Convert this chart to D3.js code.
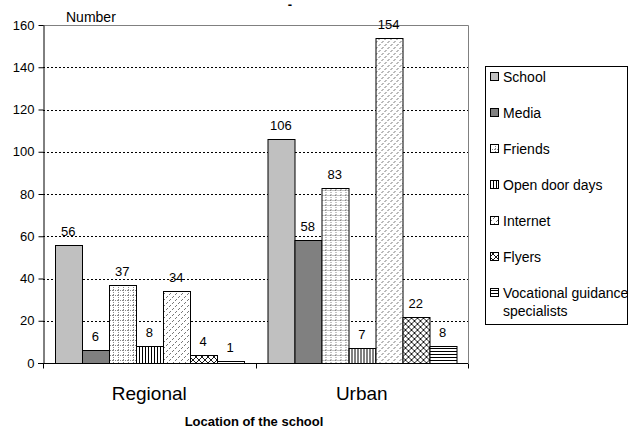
<!DOCTYPE html>
<html>
<head>
<meta charset="utf-8">
<script src="https://cdn.jsdelivr.net/npm/d3@7"></script>
<style>
  body { margin: 0; background: #fff; }
  text { font-family: "Liberation Sans", Arial, sans-serif; }
</style>
</head>
<body>
<div id="chart"></div>
<script>
// data
var categories = ["Regional", "Urban"];
var series = ["School", "Media", "Friends", "Open door days", "Internet", "Flyers", "Vocational guidance specialists"];
var regionalValues = [56, 6, 37, 8, 34, 4, 1];
var urbanValues = [106, 58, 83, 7, 154, 22, 8];
var yTicks = [0, 20, 40, 60, 80, 100, 120, 140, 160];

var values = [regionalValues, urbanValues];
var fills = ["#c0c0c0", "#808080", "url(#pFriends)", "url(#pOpen)", "url(#pInternet)", "url(#pFlyers)", "url(#pVoc)"];

var W = 629, H = 430;
var plotLeft = 43, plotRight = 468, plotTop = 25, plotBottom = 363;

var svg = d3.select("#chart").append("svg")
    .attr("width", W)
    .attr("height", H);

// patterns
var defs = svg.append("defs");
var p = defs.append("pattern").attr("id", "pFriends").attr("patternUnits", "userSpaceOnUse")
    .attr("width", 5).attr("height", 5);
p.append("rect").attr("width", 5).attr("height", 5).attr("fill", "#fff");
p.append("line").attr("x1", 0.5).attr("y1", 0).attr("x2", 0.5).attr("y2", 5)
    .attr("stroke", "#888").attr("stroke-width", 1).attr("stroke-dasharray", "1,1");
p.append("line").attr("x1", 0).attr("y1", 0.5).attr("x2", 5).attr("y2", 0.5)
    .attr("stroke", "#888").attr("stroke-width", 1).attr("stroke-dasharray", "1,1");

p = defs.append("pattern").attr("id", "pOpen").attr("patternUnits", "userSpaceOnUse")
    .attr("width", 3).attr("height", 3);
p.append("rect").attr("width", 3).attr("height", 3).attr("fill", "#fff");
p.append("line").attr("x1", 0.5).attr("y1", 0).attr("x2", 0.5).attr("y2", 3)
    .attr("stroke", "#000").attr("stroke-width", 1);

p = defs.append("pattern").attr("id", "pInternet").attr("patternUnits", "userSpaceOnUse")
    .attr("width", 6).attr("height", 6);
p.append("rect").attr("width", 6).attr("height", 6).attr("fill", "#fff");
[[0, 0], [3, 3], [1, 5], [4, 2]].forEach(function(d) {
  p.append("rect").attr("x", d[0]).attr("y", d[1]).attr("width", 1).attr("height", 1).attr("fill", "#777");
});

p = defs.append("pattern").attr("id", "pFlyers").attr("patternUnits", "userSpaceOnUse")
    .attr("width", 6).attr("height", 6);
p.append("rect").attr("width", 6).attr("height", 6).attr("fill", "#fff");
p.append("path").attr("d", "M0,0L6,6M6,0L0,6M-1,5L1,7M5,-1L7,1M-1,1L1,-1M5,7L7,5")
    .attr("stroke", "#000").attr("stroke-width", 0.9);

p = defs.append("pattern").attr("id", "pVoc").attr("patternUnits", "userSpaceOnUse")
    .attr("width", 3).attr("height", 3);
p.append("rect").attr("width", 3).attr("height", 3).attr("fill", "#fff");
p.append("line").attr("x1", 0).attr("y1", 0.5).attr("x2", 3).attr("y2", 0.5)
    .attr("stroke", "#000").attr("stroke-width", 1);

// scales
var y = d3.scaleLinear().domain([0, 160]).range([plotBottom, plotTop]);
var x0 = d3.scaleBand().domain(categories).range([plotLeft, plotRight]);
var x1 = d3.scaleBand().domain(series).range([0, x0.bandwidth()]).paddingInner(0).paddingOuter(0.44);

// frame top/right
svg.append("path")
    .attr("d", "M" + plotLeft + "," + (plotTop + 0.5) + "H" + (plotRight + 0.5) + "V" + plotBottom)
    .attr("fill", "none").attr("stroke", "#808080");

// gridlines
svg.append("g").selectAll("line")
    .data(yTicks.filter(function(d) { return d > 0 && d < 160; }))
    .enter().append("line")
    .attr("x1", plotLeft).attr("x2", plotRight)
    .attr("y1", function(d) { return Math.round(y(d)) + 0.5; })
    .attr("y2", function(d) { return Math.round(y(d)) + 0.5; })
    .attr("stroke", "#000").attr("stroke-width", 1).attr("stroke-dasharray", "2,2");

// bars
var groups = svg.append("g").selectAll("g")
    .data(categories)
    .enter().append("g")
    .attr("transform", function(c) { return "translate(" + x0(c) + ",0)"; });

groups.each(function(c, ci) {
  var g = d3.select(this);
  var rows = series.map(function(s, i) { return {s: s, v: values[ci][i], f: fills[i]}; });
  g.selectAll("rect").data(rows).enter().append("rect")
      .attr("x", function(d) { return Math.round(x1(d.s)) + 0.5; })
      .attr("y", function(d) { return Math.round(y(d.v)) + 0.5; })
      .attr("width", Math.round(x1.bandwidth()))
      .attr("height", function(d) { return Math.round(y(0)) - Math.round(y(d.v)); })
      .attr("fill", function(d) { return d.f; })
      .attr("stroke", "#000").attr("stroke-width", 1);
  g.selectAll("text").data(rows).enter().append("text")
      .attr("x", function(d) { return x1(d.s) + x1.bandwidth() / 2; })
      .attr("y", function(d) { return y(d.v) - 9; })
      .attr("text-anchor", "middle")
      .attr("font-size", 13)
      .text(function(d) { return d.v; });
});

// y axis
var yAxis = svg.append("g")
    .attr("transform", "translate(" + (plotLeft + 0.5) + ",0)")
    .call(d3.axisLeft(y).tickValues(yTicks).tickSize(5).tickSizeOuter(0));
yAxis.select(".domain").attr("stroke", "#000");
yAxis.selectAll("text").attr("font-size", 13).attr("font-family", "Liberation Sans, Arial, sans-serif")
    .attr("fill", "#000").attr("x", -9);

// x axis
var xAxis = svg.append("g")
    .attr("transform", "translate(0," + (plotBottom + 0.5) + ")");
xAxis.append("line").attr("x1", plotLeft - 5).attr("x2", plotRight).attr("y1", 0).attr("y2", 0)
    .attr("stroke", "#000");
xAxis.selectAll(".tk").data([plotLeft, x0("Urban"), plotRight]).enter().append("line")
    .attr("x1", function(d) { return Math.round(d) + 0.5; })
    .attr("x2", function(d) { return Math.round(d) + 0.5; })
    .attr("y1", 0).attr("y2", 5).attr("stroke", "#000");
xAxis.selectAll("text").data(categories).enter().append("text")
    .attr("x", function(c) { return x0(c) + x0.bandwidth() / 2; })
    .attr("y", 36)
    .attr("text-anchor", "middle")
    .attr("font-size", 19)
    .text(function(c) { return c; });

// labels
svg.append("text").attr("x", 66).attr("y", 22).attr("font-size", 14).text("Number");
svg.append("text").attr("x", 290).attr("y", 9).attr("font-size", 13).attr("font-weight", "bold")
    .attr("text-anchor", "middle").text("-");
svg.append("text").attr("x", 254).attr("y", 426).attr("font-size", 13).attr("font-weight", "bold")
    .attr("text-anchor", "middle").text("Location of the school");

// legend
var legend = svg.append("g");
legend.append("rect").attr("x", 485.5).attr("y", 66.5).attr("width", 142).attr("height", 258)
    .attr("fill", "#fff").attr("stroke", "#000");
var legendLines = [["School"], ["Media"], ["Friends"], ["Open door days"], ["Internet"], ["Flyers"], ["Vocational guidance", "specialists"]];
var li = legend.selectAll("g.item").data(series).enter().append("g")
    .attr("transform", function(d, i) { return "translate(490," + (77 + i * 36) + ")"; });
li.append("rect").attr("x", 0.5).attr("y", -4.5).attr("width", 8).attr("height", 8)
    .attr("fill", function(d, i) { return fills[i]; })
    .attr("stroke", "#000");
li.append("text")
    .attr("x", 13).attr("y", 5)
    .attr("font-size", 14)
    .each(function(d, i) {
      var t = d3.select(this);
      legendLines[i].forEach(function(line, k) {
        t.append("tspan").attr("x", 13).attr("dy", k === 0 ? 0 : 18).text(line);
      });
    });
</script>
</body>
</html>
